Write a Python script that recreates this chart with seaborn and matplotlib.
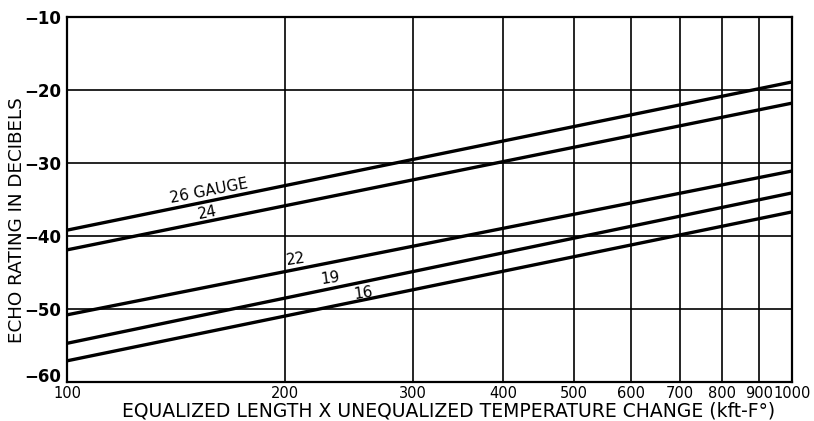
import matplotlib
matplotlib.use("Agg")
import matplotlib.pyplot as plt
import seaborn as sns
import pandas as pd
import numpy as np
from matplotlib.ticker import FixedLocator, NullLocator, FixedFormatter

# ---- data ----
x_vals = [100, 1000]
gauge_26 = [-39.2, -18.9]
gauge_24 = [-41.9, -21.8]
gauge_22 = [-50.8, -31.1]
gauge_19 = [-54.7, -34.1]
gauge_16 = [-57.1, -36.7]
gauges = ["26", "24", "22", "19", "16"]
series = [gauge_26, gauge_24, gauge_22, gauge_19, gauge_16]

x_ticks = [100, 200, 300, 400, 500, 600, 700, 800, 900, 1000]
x_ticklabels = ["100", "200", "300", "400", "500", "600", "700", "800", "900", "1000"]
y_ticks = [-60, -50, -40, -30, -20, -10]
y_ticklabels = ["\u221260", "\u221250", "\u221240", "\u221230", "\u221220", "\u221210"]

# curve labels (text, x, y)
curve_labels = [("26 GAUGE", 157, -33.9), ("24", 156, -36.8), ("22", 207, -43.2),
                ("19", 231, -45.8), ("16", 256, -47.8)]

rows = []
for g, ys in zip(gauges, series):
    for xv, yv in zip(x_vals, ys):
        rows.append({"x": xv, "y": yv, "gauge": g})
df = pd.DataFrame(rows)

sns.set_style("white")
plt.rcParams["font.family"] = ["DejaVu Sans"]
plt.rcParams["text.color"] = "black"
plt.rcParams["axes.labelcolor"] = "black"

fig = plt.figure(figsize=(8.14, 4.21), dpi=100)
ax = fig.add_axes([67 / 814, 1 - 382 / 421, (792 - 67) / 814, (382 - 17) / 421])

sns.lineplot(data=df, x="x", y="y", hue="gauge", hue_order=gauges,
             palette=["black"] * 5, linewidth=2.4, legend=False, ax=ax)

ax.set_xscale("log")
ax.set_xlim(100, 1000)
ax.set_ylim(-60, -10)
ax.xaxis.set_major_locator(FixedLocator(x_ticks))
ax.xaxis.set_major_formatter(FixedFormatter(x_ticklabels))
ax.xaxis.set_minor_locator(NullLocator())
ax.yaxis.set_major_locator(FixedLocator(y_ticks))
ax.yaxis.set_major_formatter(FixedFormatter(y_ticklabels))

ax.grid(True, color="black", linewidth=1.2)
for s in ax.spines.values():
    s.set_visible(True)
    s.set_color("black")
    s.set_linewidth(1.6)

ax.tick_params(axis="x", length=0, labelsize=10.5, colors="black", pad=3)
ax.tick_params(axis="y", length=0, labelsize=12, colors="black", pad=4)
fig.canvas.draw()
for lab in ax.get_yticklabels():
    lab.set_fontweight("semibold")
ylabs = ax.get_yticklabels()
ylabs[0].set_va("baseline")

ax.set_xlabel("EQUALIZED LENGTH X UNEQUALIZED TEMPERATURE CHANGE (kft-F°)",
              fontsize=13.5, color="black")
ax.xaxis.set_label_coords((449 - 67) / 725, -(411 - 382) / 365)
ax.set_ylabel("ECHO RATING IN DECIBELS", fontsize=13.2, color="black")
ax.yaxis.set_label_coords(-(67 - 17) / 725, (382 - 220) / 365)
ax.xaxis.label.set_va("center")
ax.yaxis.label.set_va("center")

for txt, tx, ty in curve_labels:
    rot = 11 if txt in ("26 GAUGE", "24") else 8
    ax.text(tx, ty, txt, fontsize=11, ha="center", va="center", rotation=rot,
            rotation_mode="anchor", color="black")

fig.savefig("out.png", dpi=100)
